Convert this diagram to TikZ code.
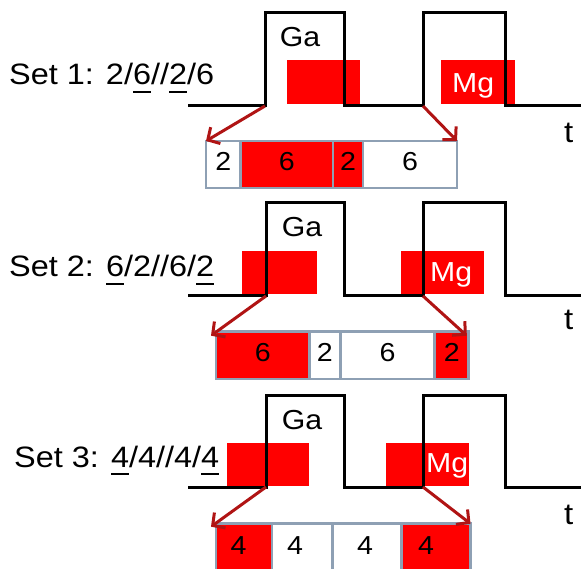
\documentclass[tikz,border=0pt]{standalone}
\usepackage{fontspec}
\setmainfont{Liberation Sans}[FakeStretch=1.1]
\usetikzlibrary{arrows.meta}
\definecolor{feedred}{RGB}{176,20,20}
\definecolor{barline}{RGB}{142,160,180}
% underline a single character with a heavy rule
\newcommand\undl[1]{\leavevmode\setbox0\hbox{#1}\rlap{\rule[-8pt]{\wd0}{2pt}}\box0}
\begin{document}
\begin{tikzpicture}[x=1pt,y=-1pt,
  pulse/.style={draw=black,line width=3pt,line join=miter},
  dose/.style={fill=red,draw=none},
  cell/.style={draw=barline,line width=2.7pt,inner sep=0pt,outer sep=0pt,
    font=\fontsize{26pt}{30pt}\selectfont,text depth=6pt},
  cellred/.style={cell,fill=red},
  cellwhite/.style={cell,fill=white},
  digit/.style={inner sep=0pt,font=\fontsize{26pt}{30pt}\selectfont},
  feed/.style={draw=feedred,line width=3pt,
    -{Straight Barb[length=9pt,width=19pt]}},
  setlabel/.style={anchor=base west,inner sep=0pt,font=\fontsize{29.5pt}{34pt}\selectfont},
  galabel/.style={inner sep=0pt,font=\fontsize{27.5pt}{32pt}\selectfont},
  mglabel/.style={anchor=base west,inner sep=0pt,text=white,font=\fontsize{27.5pt}{32pt}\selectfont},
  taxis/.style={anchor=base west,inner sep=0pt,font=\fontsize{30pt}{34pt}\selectfont}]
\useasboundingbox (0,0) rectangle (581,569);
\clip (0,0) rectangle (581,569);

% ---------------- Set 1 ----------------
\fill[dose] (287,60) rectangle (360,104);
\fill[dose] (441,60) rectangle (515,104);
\coordinate (g1) at (265,106);
\coordinate (m1) at (423,106);
\draw[pulse] (188,106) -- (g1) |- (344,13) |- (m1) |- (505,13) |- (583,106);
\node[cellwhite,minimum width=34.5pt,minimum height=47pt] (c11) at (223.25,164.5) {2};
\node[cellred,minimum width=92.5pt,minimum height=47pt] (c12) at (286.75,164.5) {6};
\node[cellred,minimum width=30pt,minimum height=47pt] (c13) at (348,164.5) {2};
\node[cellwhite,minimum width=94pt,minimum height=47pt] (c14) at (410,164.5) {6};
\draw[feed] (g1) -- (c11.north west);
\draw[feed] (m1) -- (c14.north east);
\node[setlabel] (s1) at (9,85) {Set 1: 2/\undl{6}//\undl{2}/6};
\node[galabel] (ga1) at (300,37) {Ga};
\node[mglabel] (mg1) at (452,92.7) {Mg};
\node[taxis] (t1) at (564,143) {t};

% ---------------- Set 2 ----------------
\fill[dose] (242,251) rectangle (317,294);
\fill[dose] (401,251) rectangle (484,294);
\coordinate (g2) at (266,296);
\coordinate (m2) at (423,296);
\draw[pulse] (188,296) -- (g2) |- (344,203) |- (m2) |- (505,203) |- (583,296);
\node[cellred,minimum width=93.5pt,minimum height=47.3pt] (c21) at (262.75,355.35) {6};
\node[cellwhite,minimum width=30.8pt,minimum height=47.3pt] (c22) at (324.9,355.35) {2};
\node[cellwhite,minimum width=94.4pt,minimum height=47.3pt] (c23) at (387.5,355.35) {6};
\node[cellred,minimum width=34pt,minimum height=47.3pt] (c24) at (451.7,355.35) {2};
\draw[feed] (g2) -- ([shift={(-5pt,-4pt)}]c21.north west);
\draw[feed] (m2) -- ([shift={(-2pt,-4pt)}]c24.north east);
\node[setlabel] (s2) at (9,277) {Set 2: \undl{6}/2//6/\undl{2}};
\node[galabel] (ga2) at (302,227) {Ga};
\node[mglabel] (mg2) at (430,282) {Mg};
\node[taxis] (t2) at (564,330) {t};

% ---------------- Set 3 ----------------
\fill[dose] (227,443) rectangle (309,486);
\fill[dose] (386,443) rectangle (469,486);
\coordinate (g3) at (266,487);
\coordinate (m3) at (423,487);
\draw[pulse] (188,487) -- (g3) |- (344,395) |- (m3) |- (505,395) |- (583,487);
\node[cellred,minimum width=56pt,minimum height=47.3pt] (c31) at (244,547.35) {};
\node[cellwhite,minimum width=60.8pt,minimum height=47.3pt] (c32) at (302.4,547.35) {};
\node[cellwhite,minimum width=68.9pt,minimum height=47.3pt] (c33) at (367.25,547.35) {};
\node[cellred,minimum width=68.8pt,minimum height=47.3pt] (c34) at (436.1,547.35) {};
\node[digit] (d31) at (238.5,546) {4};
\node[digit] (d32) at (295,546) {4};
\node[digit] (d33) at (365,546) {4};
\node[digit] (d34) at (426,546) {4};
\draw[feed] (g3) -- ([shift={(-5pt,-3pt)}]c31.north west);
\draw[feed] (m3) -- (c34.north east);
\node[setlabel] (s3) at (14,467) {Set 3: \undl{4}/4//4/\undl{4}};
\node[galabel] (ga3) at (302,420) {Ga};
\node[mglabel] (mg3) at (426,472) {Mg};
\node[taxis] (t3) at (564,524) {t};
\end{tikzpicture}
\end{document}
